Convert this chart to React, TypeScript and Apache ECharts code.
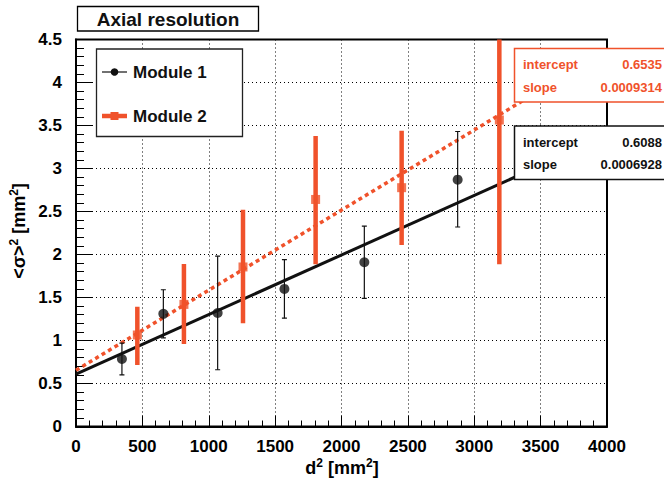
import React, { useEffect, useRef } from "react";
import * as echarts from "echarts";

// Module 1: d^2 [mm^2], mean <sigma>^2 [mm^2] and its error band
const module1D2 = [346, 658, 1067, 1570, 2172, 2875];
const module1Sigma = [0.785, 1.31, 1.32, 1.6, 1.91, 2.87];
const module1Low = [0.6, 1.03, 0.66, 1.26, 1.49, 2.32];
const module1High = [0.97, 1.59, 1.98, 1.94, 2.33, 3.43];

// Module 2
const module2D2 = [462, 813, 1258, 1805, 2453, 3189];
const module2Sigma = [1.064, 1.42, 1.855, 2.64, 2.777, 3.564];
const module2Low = [0.715, 0.96, 1.2, 1.886, 2.11, 1.886];
const module2High = [1.393, 1.89, 2.52, 3.378, 3.44, 5.24];

// Linear fit results [Module 1, Module 2]
const fitIntercept = [0.6088, 0.6535];
const fitSlope = [0.0006928, 0.0009314];
const fitRange = [0, 4000];

const moduleNames = ["Module 1", "Module 2"];
const titleText = "Axial resolution";

const ORANGE = "#f0522b";
const FONT = '"Liberation Sans", Arial, Helvetica, sans-serif';
const TOP_Z = 100;

function fitLine(i: number) {
  return fitRange.map((x) => [x, fitIntercept[i] + fitSlope[i] * x]);
}

function errorBars(color: string, width: number, cap: number) {
  return (params: any, api: any) => {
    const x = api.value(0);
    const lo = api.coord([x, api.value(1)]);
    const hi = api.coord([x, api.value(2)]);
    const children: any[] = [
      {
        type: "line",
        shape: { x1: lo[0], y1: lo[1], x2: hi[0], y2: hi[1] },
        style: { stroke: color, lineWidth: width },
      },
    ];
    if (cap > 0) {
      children.push(
        {
          type: "line",
          shape: { x1: lo[0] - cap, y1: lo[1], x2: lo[0] + cap, y2: lo[1] },
          style: { stroke: color, lineWidth: width },
        },
        {
          type: "line",
          shape: { x1: hi[0] - cap, y1: hi[1], x2: hi[0] + cap, y2: hi[1] },
          style: { stroke: color, lineWidth: width },
        }
      );
    }
    return { type: "group", children };
  };
}

// put every element of an overlay above the series
function onTop(list: any[]) {
  return list.map((el) => ({ ...el, z: TOP_Z }));
}

function statBox(top: number, color: string, i: number) {
  const rowFont = { fontSize: 13, fontWeight: "bold", fontFamily: FONT, fill: color };
  return onTop([
    {
      type: "rect",
      shape: { x: 514.5, y: top, width: 170, height: 53.5 },
      style: { fill: "#fff", stroke: color, lineWidth: 1.5 },
    },
    {
      type: "text",
      style: { ...rowFont, text: "intercept", x: 523, y: top + 16, verticalAlign: "middle" },
    },
    {
      type: "text",
      style: { ...rowFont, text: "slope", x: 523, y: top + 38.5, verticalAlign: "middle" },
    },
    {
      type: "text",
      style: {
        ...rowFont,
        text: String(fitIntercept[i]),
        x: 662,
        y: top + 16,
        align: "right",
        verticalAlign: "middle",
      },
    },
    {
      type: "text",
      style: {
        ...rowFont,
        text: String(fitSlope[i]),
        x: 662,
        y: top + 38.5,
        align: "right",
        verticalAlign: "middle",
      },
    },
  ]);
}

export default function App() {
  const ref = useRef<HTMLDivElement>(null);

  useEffect(() => {
    if (!ref.current) return;
    const chart = echarts.init(ref.current, undefined, { renderer: "svg" });

    const labelStyle = {
      color: "#000",
      fontSize: 17,
      fontWeight: "bold",
      fontFamily: FONT,
    };

    const richTitle = {
      b: { fontSize: 18, fontWeight: "bold", fontFamily: FONT, fill: "#000", lineHeight: 23 },
      s: {
        fontSize: 12,
        fontWeight: "bold",
        fontFamily: FONT,
        fill: "#000",
        verticalAlign: "top",
        lineHeight: 23,
      },
    };

    const legendText = {
      fontSize: 17,
      fontWeight: "bold",
      fontFamily: FONT,
      fill: "#111",
      verticalAlign: "middle",
    };

    const option: any = {
      animation: false,
      backgroundColor: "#fff",
      grid: {
        left: 76,
        right: 57,
        top: 39.5,
        bottom: 58.5,
        show: true,
        borderColor: "#000",
        borderWidth: 2,
        backgroundColor: "transparent",
      },
      xAxis: {
        type: "value",
        min: 0,
        max: 4000,
        interval: 500,
        axisLine: { show: true, lineStyle: { color: "#000", width: 2 } },
        axisTick: { show: true, inside: true, length: 11, lineStyle: { color: "#000", width: 1 } },
        minorTick: { show: true, splitNumber: 5, length: 6, lineStyle: { color: "#000", width: 1 } },
        splitLine: { show: true, lineStyle: { color: "#000", width: 1, type: [1, 3] } },
        axisLabel: { ...labelStyle, margin: 11, formatter: (v: number) => String(v) },
      },
      yAxis: {
        type: "value",
        min: 0,
        max: 4.5,
        interval: 0.5,
        axisLine: { show: true, lineStyle: { color: "#000", width: 2 } },
        axisTick: { show: true, inside: true, length: 16, lineStyle: { color: "#000", width: 1 } },
        minorTick: { show: true, splitNumber: 5, length: 8, lineStyle: { color: "#000", width: 1 } },
        splitLine: { show: true, lineStyle: { color: "#000", width: 1, type: [1, 3] } },
        axisLabel: { ...labelStyle, margin: 14, formatter: (v: number) => String(v) },
      },
      series: [
        {
          name: moduleNames[1] + " fit",
          type: "line",
          data: fitLine(1),
          symbol: "none",
          lineStyle: { color: ORANGE, width: 3.5, type: [4, 3.5] },
          z: 2,
        },
        {
          name: moduleNames[0] + " fit",
          type: "line",
          data: fitLine(0),
          symbol: "none",
          lineStyle: { color: "#111", width: 3 },
          z: 2,
        },
        {
          name: moduleNames[1] + " errors",
          type: "custom",
          clip: true,
          renderItem: errorBars(ORANGE, 4.5, 0),
          data: module2D2.map((x, i) => [x, module2Low[i], module2High[i]]),
          z: 3,
        },
        {
          name: moduleNames[0] + " errors",
          type: "custom",
          clip: true,
          renderItem: errorBars("#111", 1.2, 2.5),
          data: module1D2.map((x, i) => [x, module1Low[i], module1High[i]]),
          z: 3,
        },
        {
          name: moduleNames[1],
          type: "scatter",
          symbol: "rect",
          symbolSize: 9,
          itemStyle: { color: ORANGE },
          data: module2D2.map((x, i) => [x, module2Sigma[i]]),
          z: 4,
        },
        {
          name: moduleNames[0],
          type: "scatter",
          symbol: "circle",
          symbolSize: 10,
          itemStyle: { color: "#111" },
          data: module1D2.map((x, i) => [x, module1Sigma[i]]),
          z: 4,
        },
      ],
      graphic: [
        // title box
        ...onTop([
          {
            type: "rect",
            shape: { x: 77.5, y: 6.5, width: 181, height: 24.5 },
            style: { fill: "#fff", stroke: "#000", lineWidth: 1.3 },
          },
          {
            type: "text",
            style: {
              text: titleText,
              x: 168,
              y: 19,
              align: "center",
              verticalAlign: "middle",
              fontSize: 19,
              fontWeight: "bold",
              fontFamily: FONT,
              fill: "#111",
            },
          },
        ]),
        // legend
        ...onTop([
          {
            type: "rect",
            shape: { x: 96.5, y: 49, width: 146, height: 87.5 },
            style: { fill: "#fff", stroke: "#222", lineWidth: 1.3 },
          },
          {
            type: "line",
            shape: { x1: 102, y1: 72, x2: 127, y2: 72 },
            style: { stroke: "#111", lineWidth: 1.2 },
          },
          {
            type: "circle",
            shape: { cx: 114.5, cy: 72, r: 3.8 },
            style: { fill: "#111" },
          },
          {
            type: "text",
            style: { ...legendText, text: moduleNames[0], x: 133, y: 72 },
          },
          {
            type: "line",
            shape: { x1: 102, y1: 116, x2: 127, y2: 116 },
            style: { stroke: ORANGE, lineWidth: 4.5 },
          },
          {
            type: "rect",
            shape: { x: 110.5, y: 112, width: 8, height: 8 },
            style: { fill: ORANGE },
          },
          {
            type: "text",
            style: { ...legendText, text: moduleNames[1], x: 133, y: 116 },
          },
        ]),
        ...statBox(48.5, ORANGE, 1),
        ...statBox(126, "#111", 0),
        // axis titles
        ...onTop([
          {
            type: "text",
            style: {
              text: "{b|d}{s|2}{b| [mm}{s|2}{b|]}",
              x: 342,
              y: 468,
              align: "center",
              verticalAlign: "middle",
              rich: richTitle,
            },
          },
          {
            type: "text",
            x: 19,
            y: 231,
            rotation: Math.PI / 2,
            style: {
              text: "{b|<σ>}{s|2}{b| [mm}{s|2}{b|]}",
              x: 0,
              y: 0,
              align: "center",
              verticalAlign: "middle",
              rich: richTitle,
            },
          },
        ]),
      ],
    };

    chart.setOption(option);
    return () => chart.dispose();
  }, []);

  return (
    <div
      ref={ref}
      style={{ position: "absolute", left: 0, top: 0, width: 664, height: 485 }}
    />
  );
}
